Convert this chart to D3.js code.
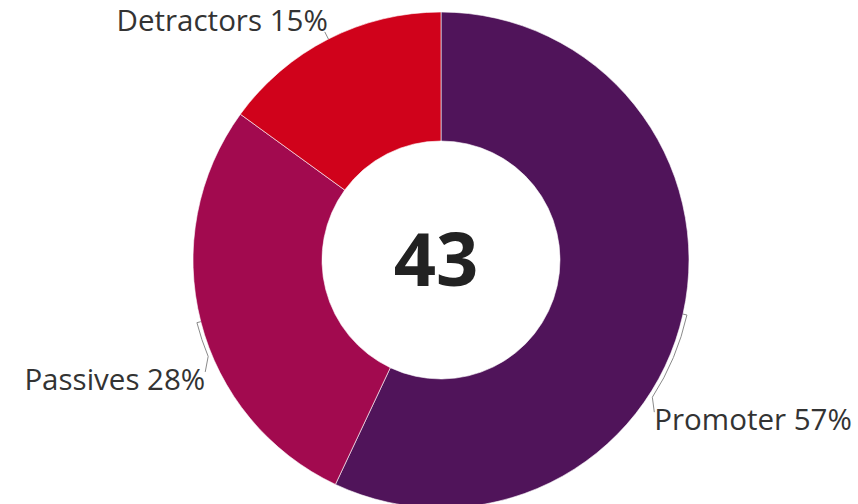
<!DOCTYPE html>
<html>
<head>
<meta charset="utf-8">
<script src="https://cdn.jsdelivr.net/npm/d3@7/dist/d3.min.js"></script>
<style>
  html, body { margin: 0; padding: 0; background: #ffffff; }
  svg { display: block; }
  text { font-family: "Open Sans", "Lato", sans-serif; fill: #333333; }
</style>
</head>
<body>
<svg id="chart" width="858" height="504"></svg>
<script>
// ---- data ----
const categories = ["Promoter", "Passives", "Detractors"];
const percentages = [57, 28, 15];
const colors = ["#50145a", "#a20a4f", "#d0021b"];
const centerScore = 43;

// ---- layout ----
const W = 858, H = 504;
const cx = 441, cy = 260;
const outerR = 248, innerR = 119;
const deg = Math.PI / 180;

const svg = d3.select("#chart");
const g = svg.append("g").attr("transform", `translate(${cx},${cy})`);

const pie = d3.pie().sort(null).value(d => d.value);
const arcs = pie(categories.map((c, i) => ({ name: c, value: percentages[i], color: colors[i] })));

const arcGen = d3.arc().innerRadius(innerR).outerRadius(outerR);

g.selectAll("path.slice")
  .data(arcs)
  .join("path")
  .attr("class", "slice")
  .attr("d", arcGen)
  .attr("fill", d => d.data.color)
  .attr("stroke", "#ffffff")
  .attr("stroke-width", 0.6);

// leader line routing per label (angles in degrees, clockwise from top)
const labelLayout = {
  "Promoter":   { bend: 123,  end: 125.5, endR: outerR + 14, anchor: "start", dx: 0,  dy: 18 },
  "Passives":   { bend: 247.5, end: 244.6, endR: outerR + 13, anchor: "end",  dx: 0,  dy: 18 },
  "Detractors": { bend: null, end: null,  endR: outerR + 8,  anchor: "end",  dx: 3,  dy: -1 }
};

function pt(aDeg, r) {
  const a = aDeg * deg;
  return [r * Math.sin(a), -r * Math.cos(a)];
}

arcs.forEach(d => {
  const L = labelLayout[d.data.name];
  const mid = ((d.startAngle + d.endAngle) / 2) / deg;
  const lr = outerR + 4;
  let path = d3.path();
  const p0 = pt(mid, outerR);
  path.moveTo(p0[0], p0[1]);
  let endPt;
  if (L.bend !== null) {
    const p1 = pt(mid, lr);
    path.lineTo(p1[0], p1[1]);
    const a0 = (mid - 90) * deg, a1 = (L.bend - 90) * deg;
    path.arc(0, 0, lr, a0, a1, L.bend < mid);
    endPt = pt(L.end, L.endR);
    path.lineTo(endPt[0], endPt[1]);
  } else {
    endPt = pt(mid, L.endR);
    path.lineTo(endPt[0], endPt[1]);
  }
  g.append("path")
    .attr("d", path.toString())
    .attr("fill", "none")
    .attr("stroke", "#8a8a8a")
    .attr("stroke-width", 1);

  g.append("text")
    .attr("x", endPt[0] + L.dx)
    .attr("y", endPt[1] + L.dy)
    .attr("text-anchor", L.anchor)
    .attr("font-size", 29.5)
    .text(`${d.data.name} ${d.data.value}%`);
});

g.append("text")
  .attr("x", -5)
  .attr("y", 0)
  .attr("dy", "0.35em")
  .attr("text-anchor", "middle")
  .attr("font-size", 74)
  .attr("font-weight", 700)
  .style("fill", "#222222")
  .text(centerScore);
</script>
</body>
</html>
